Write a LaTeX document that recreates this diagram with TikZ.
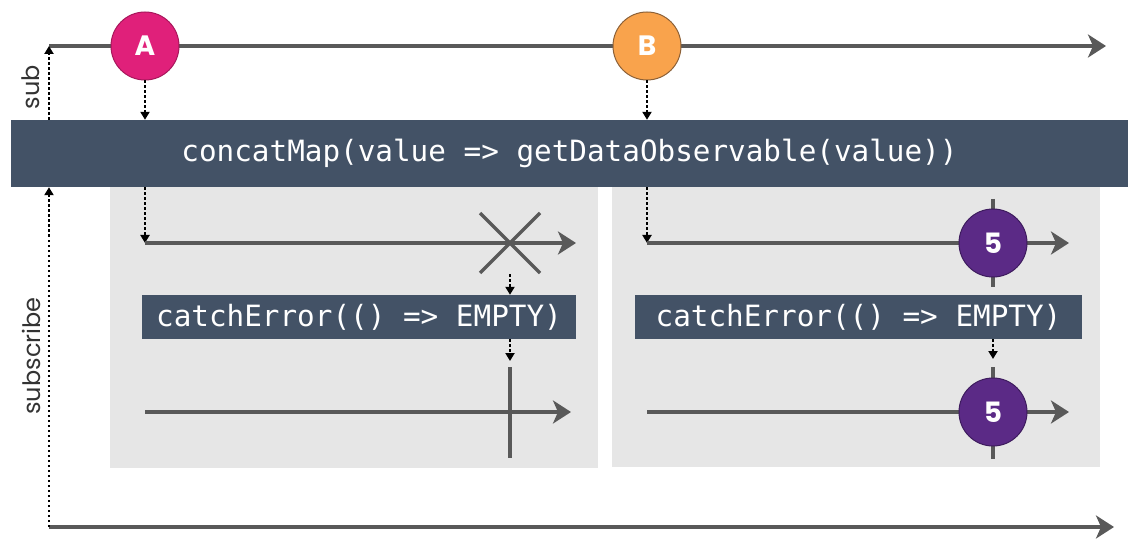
\documentclass[tikz,border=0pt]{standalone}
\usepackage{fontspec}
\setmainfont{Poppins}
\newfontfamily\codefont{DejaVu Sans Mono}
\usetikzlibrary{arrows.meta,calc}

\definecolor{linegray}{HTML}{595959}
\definecolor{barslate}{HTML}{435266}
\definecolor{panelgray}{HTML}{E6E6E6}
\definecolor{valA}{HTML}{E0207A}
\definecolor{valAedge}{HTML}{A8185C}
\definecolor{valB}{HTML}{F9A34C}
\definecolor{valBedge}{HTML}{8C6138}
\definecolor{valFive}{HTML}{5B2A86}
\definecolor{valFiveedge}{HTML}{3E1C5E}
\definecolor{labelgray}{HTML}{333333}

\begin{document}
\begin{tikzpicture}[x=1pt,y=-1pt,
  timeline/.style={draw=linegray, line width=3.5pt,
    -{Stealth[length=18pt,width=23pt,inset=5pt]}},
  plainline/.style={draw=linegray, line width=3.5pt},
  dotarrow/.style={draw=black, line width=2.5pt, dash pattern=on 2.5pt off 2.5pt,
    -{Triangle[length=8pt,width=9pt]}},
  operator/.style={fill=barslate, text=white, inner sep=0pt,
    font=\codefont\fontsize{29.3}{30}\selectfont},
  panel/.style={fill=panelgray, inner sep=0pt, anchor=north west},
  marble/.style={circle, minimum size=68pt, inner sep=0pt, line width=1pt,
    text=white, font=\fontsize{28}{29}\selectfont\bfseries},
  sidelabel/.style={rotate=90, font=\fontsize{24}{26}\selectfont, text=labelgray}
]
\useasboundingbox (0,0) rectangle (1146,556);

% inner observables
\node[panel, minimum width=488pt, minimum height=281pt] (panelL) at (110,187) {};
\node[panel, minimum width=488pt, minimum height=280pt] (panelR) at (612,187) {};

% concatMap operator bar
\node[operator, minimum width=1117pt, minimum height=67pt] (bar) at (569.5,153.5)
  {concatMap(value => getDataObservable(value))};

% source and result timelines
\coordinate (origin) at (49,46);
\coordinate (srcend) at (1106,46);
\coordinate (resstart) at (49,527);
\coordinate (resend) at (1114,527);
\draw[timeline] (origin) -- (srcend);
\draw[timeline] (resstart) -- (resend);

% subscriptions
\draw[dotarrow] (origin |- bar.north) -- (origin);
\draw[dotarrow] (resstart) -- (resstart |- bar.south);
\node[sidelabel] (sublbl) at (31,87) {sub};
\node[sidelabel] (subscribelbl) at (31,356) {subscribe};

% source values
\node[marble, fill=valA, draw=valAedge] (A) at (145,46) {A};
\node[marble, fill=valB, draw=valBedge] (B) at (647,46) {B};
\draw[dotarrow] (A.south) -- (A.south |- bar.north);
\draw[dotarrow] (B.south) -- (B.south |- bar.north);

% ---- inner observable for A: errors ----
\coordinate (L1start) at (145,243);
\coordinate (L1end) at (576,243);
\coordinate (err) at (510,243);
\draw[dotarrow] (A.south |- bar.south) -- (L1start);
\draw[timeline] (L1start) -- (L1end);
\draw[plainline] ($(err)+(-30,-30)$) -- ($(err)+(30,30)$);
\draw[plainline] ($(err)+(-30,30)$) -- ($(err)+(30,-30)$);

\node[operator, minimum width=434pt, minimum height=44pt] (catchL) at (359,317)
  {catchError(() => EMPTY)};
\draw[dotarrow] ($(err)+(0,31)$) -- (err |- catchL.north);

\coordinate (L2start) at (145,412);
\coordinate (L2end) at (571,412);
\coordinate (doneL) at (510,412);
\draw[dotarrow] (err |- catchL.south) -- ($(doneL)+(0,-51)$);
\draw[timeline] (L2start) -- (L2end);
\draw[plainline] ($(doneL)+(0,-45)$) -- ($(doneL)+(0,46)$);

% ---- inner observable for B: emits 5 and completes ----
\coordinate (R1start) at (647,243);
\coordinate (R1end) at (1069,243);
\draw[dotarrow] (B.south |- bar.south) -- (R1start);
\draw[timeline] (R1start) -- (R1end);
\draw[plainline] (993,199) -- (993,287);
\node[marble, fill=valFive, draw=valFiveedge] (five1) at (993,243) {5};

\node[operator, minimum width=447pt, minimum height=44pt] (catchR) at (858.5,317)
  {catchError(() => EMPTY)};
\draw[dotarrow] (five1 |- catchR.south) -- (993,359);

\coordinate (R2start) at (647,412);
\coordinate (R2end) at (1069,412);
\draw[timeline] (R2start) -- (R2end);
\draw[plainline] (993,367) -- (993,459);
\node[marble, fill=valFive, draw=valFiveedge] (five2) at (993,412) {5};
\end{tikzpicture}
\end{document}
